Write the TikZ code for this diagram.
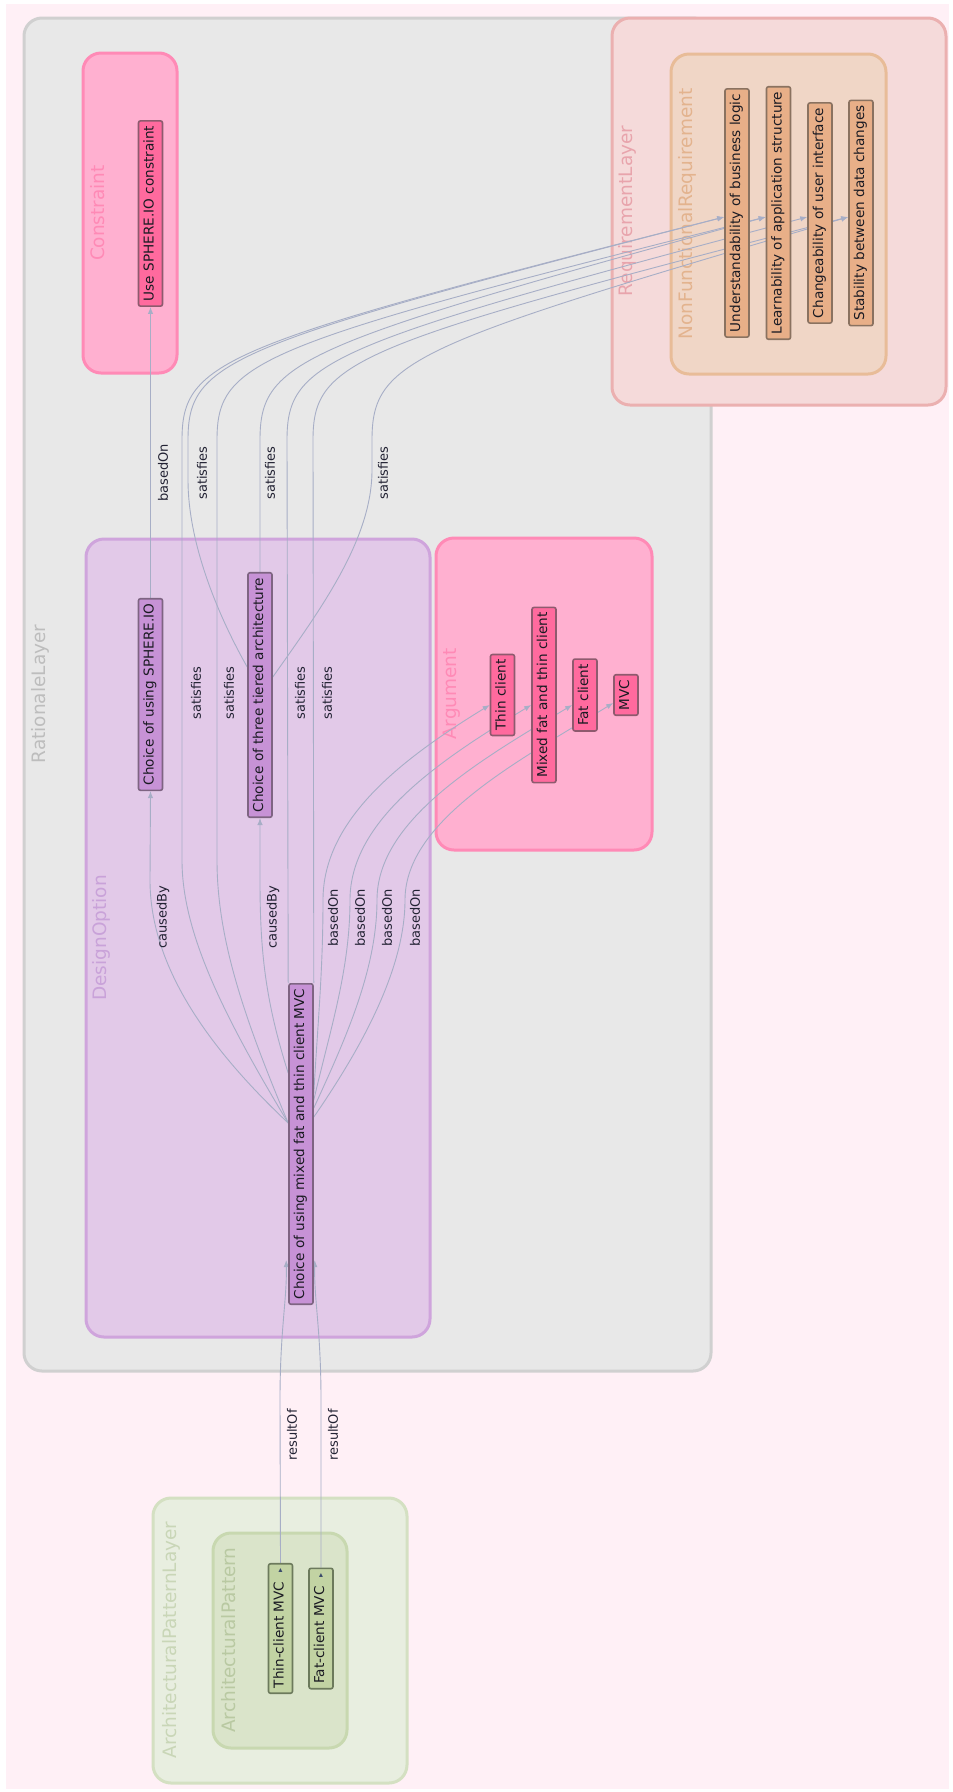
\documentclass[tikz,border=0pt]{standalone}
\usepackage{fontspec}
\setmainfont{DejaVu Sans}
\usetikzlibrary{arrows.meta,calc}
\pgfdeclarelayer{edgelayer}
\pgfdeclarelayer{toplayer}
\pgfsetlayers{main,edgelayer,toplayer}

\definecolor{pagebg}{HTML}{FFF0F6}
\definecolor{ratfill}{HTML}{E8E8E8}
\definecolor{ratdraw}{HTML}{D0D0D0}
\definecolor{ratlabel}{HTML}{BDBDBD}
\definecolor{reqfill}{HTML}{F5DADA}
\definecolor{reqdraw}{HTML}{EBB0B0}
\definecolor{reqlabel}{HTML}{E8A4AC}
\definecolor{nfrfill}{HTML}{F0D6C6}
\definecolor{nfrdraw}{HTML}{E8BC98}
\definecolor{nfrlabel}{HTML}{E3B38E}
\definecolor{pinkfill}{HTML}{FFB0D0}
\definecolor{pinkdraw}{HTML}{FF8AB6}
\definecolor{optfill}{HTML}{E2C9E8}
\definecolor{optdraw}{HTML}{CFA4DC}
\definecolor{optlabel}{HTML}{C9A2D9}
\definecolor{aplfill}{HTML}{E8EEE0}
\definecolor{apldraw}{HTML}{D4E0C2}
\definecolor{apllabel}{HTML}{C9D6B7}
\definecolor{apfill}{HTML}{DAE4CA}
\definecolor{apdraw}{HTML}{C8D8B0}
\definecolor{aplabel}{HTML}{B9C9A2}
\definecolor{pinknode}{HTML}{FF6A9E}
\definecolor{pinkedge}{HTML}{8E5A6E}
\definecolor{optnode}{HTML}{C792D6}
\definecolor{optedge}{HTML}{7E6482}
\definecolor{reqnode}{HTML}{E8AF88}
\definecolor{reqedge}{HTML}{8A7260}
\definecolor{patnode}{HTML}{C2D3A3}
\definecolor{patedge}{HTML}{6C7A5C}
\definecolor{nodetext}{HTML}{1A1A22}
\definecolor{linkc}{HTML}{A7AEC6}
\definecolor{labeltext}{HTML}{222233}
\definecolor{tricol}{HTML}{3A4A6A}

\newcommand{\vtxt}[1]{\rotatebox{90}{\strut #1}}
\newcommand{\vlbl}[1]{\rotatebox{90}{#1}}
\newcommand{\moretri}{\hspace{9pt}\raisebox{1pt}{\fontsize{8}{8}\selectfont\color{tricol}▸}}

\begin{document}
\begin{tikzpicture}[x=1pt,y=-1pt,
  box/.style={rounded corners=18pt,line width=3pt},
  boxlabel/.style={inner sep=0pt,font=\fontsize{18.5}{22}\selectfont},
  item/.style={draw,line width=1.6pt,rounded corners=2pt,minimum width=24pt,
    inner xsep=0pt,inner ysep=5pt,text=nodetext,font=\fontsize{13.6}{16}\selectfont},
  pinkitem/.style={item,fill=pinknode,draw=pinkedge},
  optitem/.style={item,fill=optnode,draw=optedge},
  reqitem/.style={item,fill=reqnode,draw=reqedge},
  patitem/.style={item,fill=patnode,draw=patedge},
  link/.style={draw=linkc,line width=0.9pt,-{Latex[length=7pt,width=5.5pt]}},
  linklabel/.style={inner sep=0pt,text=labeltext,font=\fontsize{13}{15}\selectfont},
]
\useasboundingbox (0,0) rectangle (953,1792);
\fill[white] (0,0) rectangle (953,1792);
\fill[pagebg] (6,4) rectangle (949,1789);

% ---------- layer boxes ----------
\draw[box,fill=ratfill,draw=ratdraw] (24,18) rectangle (711,1371);
\node[boxlabel,text=ratlabel] (ratlbl) at (40,694) {\vlbl{RationaleLayer}};

\draw[box,fill=pinkfill,draw=pinkdraw] (83,53) rectangle (177,373);
\node[boxlabel,text=pinkdraw] (conlbl) at (98,213) {\vlbl{Constraint}};

\draw[box,fill=optfill,draw=optdraw] (86,539) rectangle (430,1337);
\node[boxlabel,text=optlabel] (optlbl) at (101,938) {\vlbl{DesignOption}};

\draw[box,fill=pinkfill,draw=pinkdraw] (436,538) rectangle (652,850);
\node[boxlabel,text=pinkdraw] (arglbl) at (452,694) {\vlbl{Argument}};

\draw[box,fill=reqfill,draw=reqdraw] (612,18) rectangle (946,405);
\node[boxlabel,text=reqlabel] (reqlbl) at (627,211) {\vlbl{RequirementLayer}};

\draw[box,fill=nfrfill,draw=nfrdraw] (671,54) rectangle (886,374);
\node[boxlabel,text=nfrlabel] (nfrlbl) at (687,214) {\vlbl{NonFunctionalRequirement}};

\draw[box,fill=aplfill,draw=apldraw] (153,1498) rectangle (407,1783);
\node[boxlabel,text=apllabel] (apllbl) at (171,1640) {\vlbl{ArchitecturalPatternLayer}};

\draw[box,fill=apfill,draw=apdraw] (213,1533) rectangle (347,1748);
\node[boxlabel,text=aplabel] (aplbl) at (229,1640) {\vlbl{ArchitecturalPattern}};

% ---------- elements ----------
\begin{pgfonlayer}{toplayer}
\node[pinkitem] (con) at (150.5,213.5) {\vtxt{Use SPHERE.IO constraint}};

\node[optitem] (sph) at (150.5,694.5) {\vtxt{Choice of using SPHERE.IO}};
\node[optitem] (three) at (260,695) {\vtxt{Choice of three tiered architecture}};
\node[optitem] (mixed) at (301,1144) {\vtxt{Choice of using mixed fat and thin client MVC}};

\node[pinkitem] (thin) at (502.5,695) {\vtxt{Thin client}};
\node[pinkitem] (mft) at (544,695) {\vtxt{Mixed fat and thin client}};
\node[pinkitem] (fat) at (585,695) {\vtxt{Fat client}};
\node[pinkitem] (mvc) at (626,695) {\vtxt{MVC}};

\node[reqitem] (und) at (737,213) {\vtxt{Understandability of business logic}};
\node[reqitem] (lea) at (778.5,213) {\vtxt{Learnability of application structure}};
\node[reqitem] (cha) at (820,213) {\vtxt{Changeability of user interface}};
\node[reqitem] (sta) at (861,213) {\vtxt{Stability between data changes}};

\node[patitem] (tcm) at (280.5,1628.5) {\vtxt{Thin-client MVC\moretri}};
\node[patitem] (fcm) at (321,1628.5) {\vtxt{Fat-client MVC\moretri}};
\end{pgfonlayer}

% ---------- connectors ----------
\begin{pgfonlayer}{edgelayer}
% basedOn: SPHERE.IO option -> constraint
\draw[link] (sph.north) -- (con.south);

% causedBy
\draw[link] ($(mixed.west)+(0,-21)$) .. controls (200,1040) and (150,960) .. (150,880) -- (sph.south);
\draw[link] ($(mixed.west)+(0,-71)$) .. controls (265,1000) and (260,950) .. (260,880) -- (three.south);

% basedOn: mixed option -> arguments
\draw[link] ($(mixed.east)+(0,-51)$) .. controls (318,1020) and (323,970) .. (323,900)
  .. controls (323,820) and (400,760) .. ($(thin.west)+(0,10)$);
\draw[link] ($(mixed.east)+(0,-44)$) .. controls (330,1030) and (350,970) .. (350,900)
  .. controls (350,820) and (440,760) .. ($(mft.west)+(0,10)$);
\draw[link] ($(mixed.east)+(0,-36)$) .. controls (345,1040) and (377,970) .. (377,900)
  .. controls (377,820) and (480,760) .. ($(fat.west)+(0,10)$);
\draw[link] ($(mixed.east)+(0,-27)$) .. controls (360,1050) and (405,970) .. (405,900)
  .. controls (405,820) and (520,760) .. ($(mvc.west)+(0,8)$);

% satisfies: mixed option -> requirements
\draw[link] ($(mixed.west)+(0,-21)$) .. controls (220,1010) and (182,930) .. (182,860) -- (182,440)
  .. controls (182,360) and (222,345) .. ($(und.west)+(0,4)$);
\draw[link] ($(mixed.west)+(0,-21)$) .. controls (245,1020) and (217,940) .. (217,860) -- (217,440)
  .. controls (217,360) and (257,345) .. ($(lea.west)+(0,4)$);
\draw[link] (mixed.north west) -- (287,440)
  .. controls (287,360) and (327,345) .. ($(cha.west)+(0,4)$);
\draw[link] (mixed.north east) -- (313,440)
  .. controls (313,360) and (353,345) .. ($(sta.west)+(0,4)$);

% satisfies: three tiered option -> requirements
\draw[link] ($(three.west)+(0,-28)$) .. controls (215,610) and (188,540) .. (188,480) -- (188,440)
  .. controls (188,360) and (228,345) .. ($(und.west)+(0,4)$);
\draw[link] (three.north) -- (260,440)
  .. controls (260,360) and (300,345) .. ($(lea.west)+(0,4)$);
\draw[link] ($(three.east)+(0,-18)$) .. controls (320,610) and (372,540) .. (372,470) -- (372,440)
  .. controls (372,360) and (412,345) .. ($(sta.west)+(0,4)$);

% resultOf: patterns -> mixed option
\draw[link] (tcm.north) -- (280,1400) .. controls (280,1330) and (287,1300) .. ($(mixed.south west)+(-2,-45)$);
\draw[link] (fcm.north) -- (321,1400) .. controls (321,1330) and (314,1300) .. ($(mixed.south east)+(1,-45)$);
\end{pgfonlayer}

% ---------- connector labels ----------
\begin{pgfonlayer}{toplayer}
\node[linklabel] (lb1) at (163,473) {\vlbl{basedOn}};
\node[linklabel] (ls1) at (202,473) {\vlbl{satisfies}};
\node[linklabel] (ls2) at (270,473) {\vlbl{satisfies}};
\node[linklabel] (ls3) at (383,473) {\vlbl{satisfies}};
\node[linklabel] (ls4) at (196,693) {\vlbl{satisfies}};
\node[linklabel] (ls5) at (229,693) {\vlbl{satisfies}};
\node[linklabel] (ls6) at (300,693) {\vlbl{satisfies}};
\node[linklabel] (ls7) at (327,693) {\vlbl{satisfies}};
\node[linklabel] (lc1) at (163,917) {\vlbl{causedBy}};
\node[linklabel] (lc2) at (273,917) {\vlbl{causedBy}};
\node[linklabel] (lb2) at (333,918) {\vlbl{basedOn}};
\node[linklabel] (lb3) at (360,918) {\vlbl{basedOn}};
\node[linklabel] (lb4) at (387,918) {\vlbl{basedOn}};
\node[linklabel] (lb5) at (415,918) {\vlbl{basedOn}};
\node[linklabel] (lr1) at (292,1435) {\vlbl{resultOf}};
\node[linklabel] (lr2) at (333,1435) {\vlbl{resultOf}};
\end{pgfonlayer}
\end{tikzpicture}
\end{document}
